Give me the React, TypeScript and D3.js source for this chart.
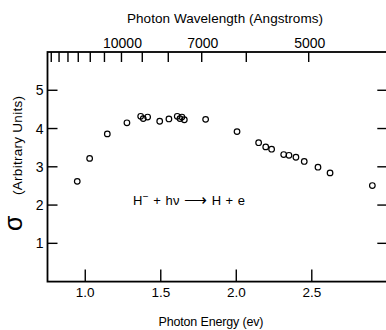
import React, { useEffect, useRef } from 'react';
import * as d3 from 'd3';

// photon energy (eV) and cross section (arbitrary units)
const energy = [0.947, 1.029, 1.146, 1.276, 1.367, 1.384, 1.413, 1.493, 1.554, 1.609, 1.627, 1.640, 1.656, 1.797, 2.005, 2.148, 2.195, 2.234, 2.314, 2.349, 2.395, 2.450, 2.541, 2.621, 2.901];
const sigma = [2.62, 3.22, 3.86, 4.15, 4.32, 4.26, 4.30, 4.19, 4.25, 4.32, 4.26, 4.30, 4.23, 4.24, 3.92, 3.63, 3.52, 3.46, 3.32, 3.30, 3.25, 3.14, 2.99, 2.84, 2.51];

const energyTicks = [1.0, 1.5, 2.0, 2.5];
const sigmaTicks = [1, 2, 3, 4, 5];
const wavelengthTicks = [16000, 15000, 14000, 13000, 12000, 11000, 10000, 9000, 8000, 7000, 6000, 5000];
const wavelengthLabels = [10000, 7000, 5000];
const HC = 12398; // Angstrom * eV

const FONT = 'Liberation Sans, Arial, sans-serif';

const App = () => {
  const svgRef = useRef<SVGSVGElement>(null);
  const width = 386;
  const height = 330;

  useEffect(() => {
    const svg = d3.select(svgRef.current);
    svg.selectAll('*').remove();

    const x = d3.scaleLinear().domain([0.75, 3.0]).range([47.5, 387.3]);
    const y = d3.scaleLinear().domain([0, 6]).range([281.6, 52]);
    const [x0, x1] = x.range();
    const [yb, yt] = y.range();

    const g = svg.append('g');

    // frame
    g.append('rect')
      .attr('x', x0).attr('y', yt)
      .attr('width', x1 - x0).attr('height', yb - yt)
      .attr('fill', 'none').attr('stroke', '#000').attr('stroke-width', 1.8);

    // bottom ticks (inward)
    energyTicks.forEach(t => {
      g.append('line')
        .attr('x1', x(t)).attr('x2', x(t))
        .attr('y1', yb).attr('y2', yb - 12)
        .attr('stroke', '#000').attr('stroke-width', 1.4);
      g.append('text')
        .attr('x', x(t)).attr('y', yb + 15.5)
        .attr('text-anchor', 'middle')
        .style('font-family', FONT).style('font-size', '13.5px')
        .text(t.toFixed(1));
    });

    // left / right ticks
    sigmaTicks.forEach(t => {
      g.append('line')
        .attr('x1', x0).attr('x2', x0 + 10)
        .attr('y1', y(t)).attr('y2', y(t))
        .attr('stroke', '#000').attr('stroke-width', 1.4);
      g.append('line')
        .attr('x1', x1).attr('x2', x1 - 10)
        .attr('y1', y(t)).attr('y2', y(t))
        .attr('stroke', '#000').attr('stroke-width', 1.4);
      g.append('text')
        .attr('x', x0 - 4).attr('y', y(t) + 5)
        .attr('text-anchor', 'end')
        .style('font-family', FONT).style('font-size', '14px')
        .text(t);
    });

    // top wavelength ticks
    wavelengthTicks.forEach(l => {
      const xe = x(HC / l);
      g.append('line')
        .attr('x1', xe).attr('x2', xe)
        .attr('y1', yt).attr('y2', yt + 10)
        .attr('stroke', '#000').attr('stroke-width', 1.4);
    });
    wavelengthLabels.forEach(l => {
      g.append('text')
        .attr('x', x(HC / l) + 1).attr('y', yt - 4)
        .attr('text-anchor', 'middle')
        .style('font-family', FONT).style('font-size', '14px')
        .text(l);
    });

    // titles
    svg.append('text')
      .attr('x', 225).attr('y', 23)
      .attr('text-anchor', 'middle')
      .attr('textLength', 196)
      .style('font-family', FONT).style('font-size', '13.5px')
      .text('Photon Wavelength (Angstroms)');

    svg.append('text')
      .attr('x', 211).attr('y', 326)
      .attr('text-anchor', 'middle')
      .attr('textLength', 105)
      .style('font-family', FONT).style('font-size', '12.5px')
      .text('Photon Energy (ev)');

    const yTitle = svg.append('g').attr('transform', 'translate(22,0) rotate(-90)');
    yTitle.append('text')
      .attr('x', -231).attr('y', 0)
      .style('font-family', FONT).style('font-size', '25px')
      .text('σ');
    yTitle.append('text')
      .attr('x', -195).attr('y', 0)
      .attr('textLength', 99)
      .style('font-family', FONT).style('font-size', '13.5px')
      .text('(Arbitrary Units)');

    // reaction annotation
    const ann = svg.append('text')
      .attr('x', 133).attr('y', 205)
      .attr('textLength', 112)
      .style('font-family', FONT).style('font-size', '13px');
    ann.append('tspan').text('H');
    ann.append('tspan').attr('dy', -5).style('font-size', '10px').text('−');
    ann.append('tspan').attr('dy', 5).text(' + hν ');
    ann.append('tspan').style('font-size', '16px').text('⟶');
    ann.append('tspan').text(' H + e');

    // data points
    g.selectAll('circle.pt')
      .data(energy.map((e, i) => ({ e, s: sigma[i] })))
      .join('circle')
      .attr('class', 'pt')
      .attr('cx', d => x(d.e))
      .attr('cy', d => y(d.s))
      .attr('r', 2.8)
      .attr('fill', 'none')
      .attr('stroke', '#000')
      .attr('stroke-width', 1.2);
  }, []);

  return (
    <svg
      ref={svgRef}
      width={width}
      height={height}
      style={{ position: 'absolute', left: 0, top: 0, background: '#fff' }}
    />
  );
};

export default App;
